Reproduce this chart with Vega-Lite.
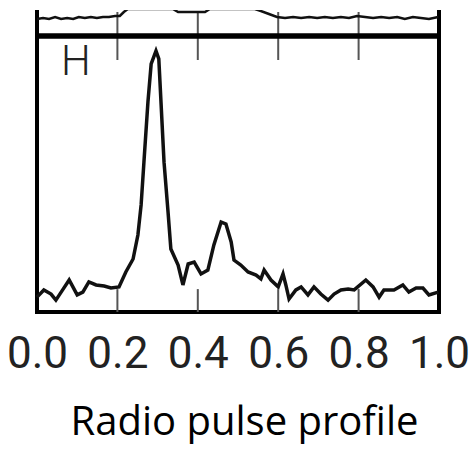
{
  "$schema": "https://vega.github.io/schema/vega-lite/v6.json",
  "background": "white",
  "padding": {"left": 4, "top": 8, "right": 0, "bottom": 0},
  "spacing": 0,
  "bounds": "flush",
  "config": {
    "view": {"stroke": "black", "strokeWidth": 4},
    "axis": {"grid": false}
  },
  "datasets": {
    "upper": [
      {"phase": 0.000, "v": 17}, {"phase": 0.015, "v": 18}, {"phase": 0.030, "v": 17},
      {"phase": 0.045, "v": 19}, {"phase": 0.060, "v": 17}, {"phase": 0.075, "v": 18},
      {"phase": 0.090, "v": 17}, {"phase": 0.104, "v": 19}, {"phase": 0.119, "v": 18},
      {"phase": 0.134, "v": 19}, {"phase": 0.149, "v": 18}, {"phase": 0.164, "v": 19},
      {"phase": 0.179, "v": 19}, {"phase": 0.194, "v": 20}, {"phase": 0.206, "v": 20},
      {"phase": 0.216, "v": 24}, {"phase": 0.226, "v": 27}, {"phase": 0.338, "v": 27},
      {"phase": 0.351, "v": 24}, {"phase": 0.383, "v": 24}, {"phase": 0.418, "v": 24},
      {"phase": 0.430, "v": 27}, {"phase": 0.542, "v": 27}, {"phase": 0.557, "v": 25},
      {"phase": 0.577, "v": 22}, {"phase": 0.597, "v": 19}, {"phase": 0.617, "v": 18},
      {"phase": 0.637, "v": 19}, {"phase": 0.657, "v": 18}, {"phase": 0.677, "v": 19},
      {"phase": 0.697, "v": 18}, {"phase": 0.716, "v": 19}, {"phase": 0.736, "v": 18},
      {"phase": 0.756, "v": 19}, {"phase": 0.776, "v": 18}, {"phase": 0.796, "v": 20},
      {"phase": 0.816, "v": 19}, {"phase": 0.836, "v": 18}, {"phase": 0.856, "v": 19},
      {"phase": 0.876, "v": 18}, {"phase": 0.896, "v": 19}, {"phase": 0.915, "v": 17},
      {"phase": 0.935, "v": 19}, {"phase": 0.955, "v": 18}, {"phase": 0.975, "v": 17},
      {"phase": 0.998, "v": 19}
    ],
    "profile": [
      {"phase": 0.000, "v": 0.054}, {"phase": 0.017, "v": 0.080}, {"phase": 0.035, "v": 0.065},
      {"phase": 0.047, "v": 0.043}, {"phase": 0.065, "v": 0.083}, {"phase": 0.080, "v": 0.116},
      {"phase": 0.100, "v": 0.062}, {"phase": 0.114, "v": 0.072}, {"phase": 0.129, "v": 0.109},
      {"phase": 0.147, "v": 0.098}, {"phase": 0.167, "v": 0.094}, {"phase": 0.184, "v": 0.087},
      {"phase": 0.204, "v": 0.091}, {"phase": 0.221, "v": 0.145}, {"phase": 0.239, "v": 0.192},
      {"phase": 0.251, "v": 0.279}, {"phase": 0.259, "v": 0.388}, {"phase": 0.266, "v": 0.543},
      {"phase": 0.276, "v": 0.761}, {"phase": 0.284, "v": 0.899}, {"phase": 0.296, "v": 0.946},
      {"phase": 0.303, "v": 0.917}, {"phase": 0.316, "v": 0.543}, {"phase": 0.326, "v": 0.362},
      {"phase": 0.333, "v": 0.228}, {"phase": 0.351, "v": 0.170}, {"phase": 0.363, "v": 0.098},
      {"phase": 0.376, "v": 0.174}, {"phase": 0.391, "v": 0.181}, {"phase": 0.408, "v": 0.138},
      {"phase": 0.425, "v": 0.152}, {"phase": 0.440, "v": 0.243}, {"phase": 0.458, "v": 0.326},
      {"phase": 0.470, "v": 0.319}, {"phase": 0.483, "v": 0.254}, {"phase": 0.490, "v": 0.188},
      {"phase": 0.507, "v": 0.170}, {"phase": 0.525, "v": 0.145}, {"phase": 0.545, "v": 0.134},
      {"phase": 0.557, "v": 0.120}, {"phase": 0.565, "v": 0.152}, {"phase": 0.582, "v": 0.116},
      {"phase": 0.600, "v": 0.091}, {"phase": 0.612, "v": 0.138}, {"phase": 0.619, "v": 0.098},
      {"phase": 0.627, "v": 0.047}, {"phase": 0.644, "v": 0.080}, {"phase": 0.657, "v": 0.091},
      {"phase": 0.674, "v": 0.062}, {"phase": 0.689, "v": 0.091}, {"phase": 0.706, "v": 0.065},
      {"phase": 0.724, "v": 0.043}, {"phase": 0.739, "v": 0.065}, {"phase": 0.756, "v": 0.080},
      {"phase": 0.774, "v": 0.083}, {"phase": 0.789, "v": 0.080}, {"phase": 0.818, "v": 0.116},
      {"phase": 0.836, "v": 0.091}, {"phase": 0.851, "v": 0.054}, {"phase": 0.863, "v": 0.080},
      {"phase": 0.888, "v": 0.080}, {"phase": 0.910, "v": 0.098}, {"phase": 0.925, "v": 0.072},
      {"phase": 0.943, "v": 0.087}, {"phase": 0.960, "v": 0.087}, {"phase": 0.975, "v": 0.062},
      {"phase": 0.998, "v": 0.072}
    ],
    "ticks": [{"phase": 0.2}, {"phase": 0.4}, {"phase": 0.6}, {"phase": 0.8}],
    "edges": [{"phase": 0}, {"phase": 1}],
    "labels": [{"text": "H"}]
  },
  "vconcat": [
    {
      "width": 402,
      "height": 26,
      "view": {"stroke": null},
      "layer": [
        {
          "data": {"name": "edges"},
          "mark": {"type": "rule", "color": "black", "strokeWidth": 4},
          "encoding": {
            "x": {"field": "phase", "type": "quantitative", "scale": {"domain": [0, 1], "nice": false}, "axis": null},
            "y": {"datum": 0, "type": "quantitative", "scale": {"domain": [0, 26], "nice": false}, "axis": null},
            "y2": {"datum": 26}
          }
        },
        {
          "data": {"name": "ticks"},
          "mark": {"type": "rule", "color": "#555555", "strokeWidth": 2},
          "encoding": {
            "x": {"field": "phase", "type": "quantitative", "axis": null},
            "y": {"datum": 0, "type": "quantitative", "axis": null},
            "y2": {"datum": 24}
          }
        },
        {
          "data": {"name": "upper"},
          "mark": {"type": "line", "color": "#111111", "strokeWidth": 2.5, "clip": true},
          "encoding": {
            "x": {"field": "phase", "type": "quantitative", "axis": null},
            "y": {"field": "v", "type": "quantitative", "axis": null}
          }
        }
      ]
    },
    {
      "width": 402,
      "height": 276,
      "layer": [
        {
          "data": {"name": "profile"},
          "mark": {"type": "line", "color": "#111111", "strokeWidth": 3.5, "strokeJoin": "miter"},
          "encoding": {
            "x": {
              "field": "phase", "type": "quantitative",
              "scale": {"domain": [0, 1], "nice": false},
              "axis": {
                "title": "Radio pulse profile",
                "values": [0, 0.2, 0.4, 0.6, 0.8, 1.0],
                "format": ".1f",
                "domain": false,
                "ticks": false,
                "labelFont": "Roboto",
                "labelFontSize": 44,
                "labelColor": "#222222",
                "labelPadding": 20,
                "labelFlush": false,
                "labelOverlap": false,
                "titleFont": "Open Sans",
                "titleFontSize": 40,
                "titleFontWeight": "normal",
                "titleColor": "black",
                "titlePadding": 26,
                "titleX": 207
              }
            },
            "y": {"field": "v", "type": "quantitative", "scale": {"domain": [0, 1], "nice": false}, "axis": null}
          }
        },
        {
          "data": {"name": "ticks"},
          "mark": {"type": "rule", "color": "#555555", "strokeWidth": 2},
          "encoding": {
            "x": {"field": "phase", "type": "quantitative"},
            "y": {"datum": 0, "type": "quantitative"},
            "y2": {"datum": 0.083}
          }
        },
        {
          "data": {"name": "ticks"},
          "mark": {"type": "rule", "color": "#555555", "strokeWidth": 2},
          "encoding": {
            "x": {"field": "phase", "type": "quantitative"},
            "y": {"datum": 0.913, "type": "quantitative"},
            "y2": {"datum": 1}
          }
        },
        {
          "data": {"name": "labels"},
          "mark": {"type": "text", "font": "Roboto", "fontWeight": 300, "fontSize": 42, "color": "#222222", "align": "center", "baseline": "middle"},
          "encoding": {
            "x": {"datum": 0.097, "type": "quantitative"},
            "y": {"datum": 0.906, "type": "quantitative"},
            "text": {"field": "text"}
          }
        },
        {
          "data": {"name": "edges"},
          "mark": {"type": "rule", "color": "black", "strokeWidth": 5},
          "encoding": {
            "y": {"datum": 1, "type": "quantitative"}
          }
        }
      ]
    }
  ]
}
